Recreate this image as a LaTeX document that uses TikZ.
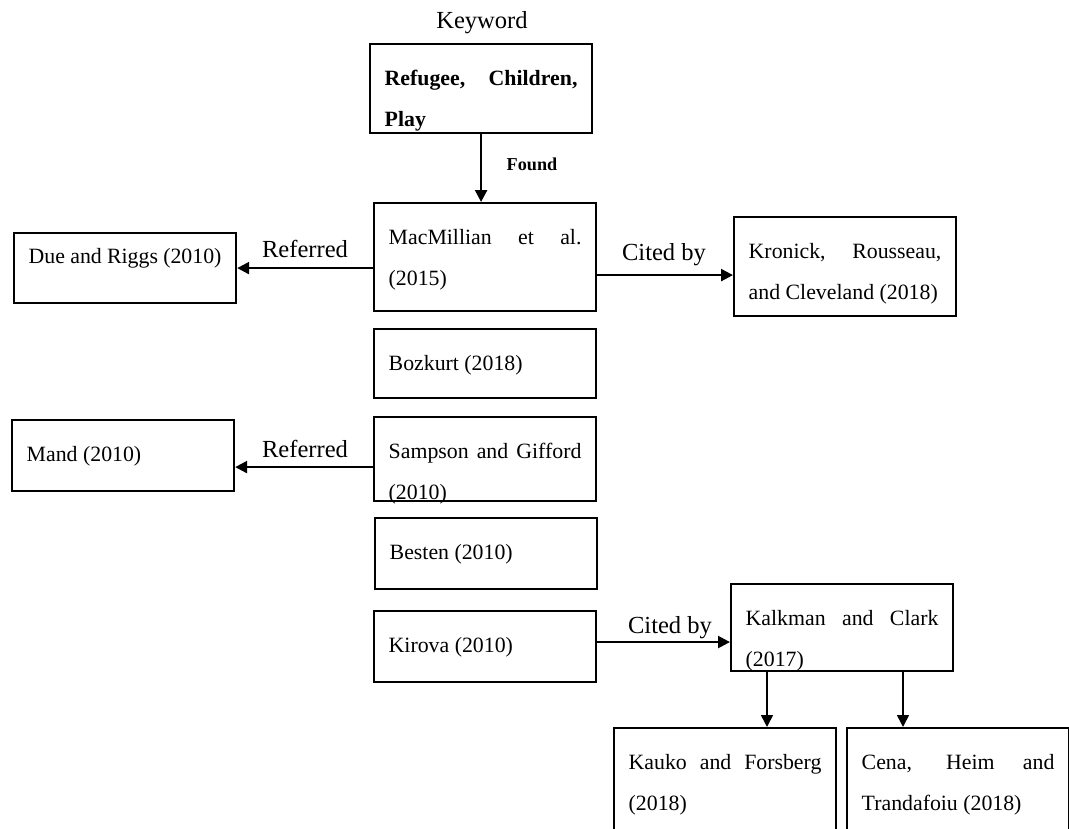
\documentclass[tikz,border=0pt]{standalone}
\usepackage{fontspec}
\setmainfont{Liberation Serif}
\usetikzlibrary{arrows.meta}

% text block of a reference box: [first baseline]{box height in px}{text}
\newcommand{\boxpar}[3][22.5pt]{\parbox[c][\dimexpr 0.55pt*#2\relax][t]{106pt}{%
  \fontsize{12}{23}\selectfont\tolerance=10000 \hyphenpenalty=10000
  \rule{0pt}{#1}#3}}

\begin{document}
\begin{tikzpicture}[x=0.55pt, y=-0.55pt,
  refbox/.style={draw, line width=1.2pt, inner xsep=8.05pt, inner ysep=0pt, anchor=north west},
  lbl/.style={font=\fontsize{13.5}{16}\selectfont, anchor=base},
  arr/.style={line width=1.3pt, -{Triangle[length=6.6pt, width=6.6pt]}}]
\useasboundingbox (0,0) rectangle (1069,829);

% keyword and the first source
\node[lbl] (keylbl) at (482,28) {Keyword};
\node[refbox] (kw) at (369,43) {\boxpar{89}{\bfseries Refugee, Children, Play}};
\node[refbox] (mac) at (373,202) {\boxpar{108}{MacMillian et al. (2015)}};
\node[refbox] (due) at (13,232) {\boxpar[16.5pt]{70}{Due and Riggs (2010)}};
\node[refbox] (kro) at (733,216) {\boxpar{99}{Kronick, Rousseau, and Cleveland (2018)}};

% middle column
\node[refbox] (boz) at (373,328) {\boxpar{69}{Bozkurt (2018)}};
\node[refbox] (mand) at (11,419) {\boxpar{71}{Mand (2010)}};
\node[refbox] (sam) at (373,416) {\boxpar{84}{Sampson and Gifford (2010)}};
\node[refbox] (bes) at (374,517) {\boxpar{71}{Besten (2010)}};
\node[refbox] (kir) at (373,610) {\boxpar{71}{Kirova (2010)}};

% citing papers
\node[refbox] (kal) at (730,583) {\boxpar{87}{Kalkman and Clark (2017)}};
\node[refbox] (kau) at (613,727) {\boxpar{120}{Kauko and Forsberg (2018)}};
\node[refbox] (cena) at (846,727) {\boxpar{120}{Cena, Heim and Trandafoiu (2018)}};

% connectors
\draw[arr] (kw.south) -- (kw.south |- mac.north);
\node[font=\bfseries\fontsize{10}{12}\selectfont, anchor=base] (found) at (532,170) {Found};

\draw[arr] (mac.west |- due.east) -- (due.east);
\node[lbl] (ref1) at (305,257) {Referred};

\draw[arr] ([yshift=-9.9pt]mac.east) -- ([yshift=-9.9pt]mac.east -| kro.west);
\node[lbl] (cite1) at (664,260) {Cited by};

\draw[arr] ([yshift=-4.4pt]sam.west) -- ([yshift=-4.4pt]sam.west -| mand.east);
\node[lbl] (ref2) at (305,457) {Referred};

\draw[arr] ([yshift=2.5pt]kir.east) -- ([yshift=2.5pt]kir.east -| kal.west);
\node[lbl] (cite2) at (670,633) {Cited by};

\draw[arr, line width=0.9pt] ([xshift=20.35pt]kal.south west) -- ([xshift=20.35pt]kal.south west |- kau.north);
\draw[arr, line width=0.9pt] ([xshift=95.15pt]kal.south west) -- ([xshift=95.15pt]kal.south west |- cena.north);
\end{tikzpicture}
\end{document}
